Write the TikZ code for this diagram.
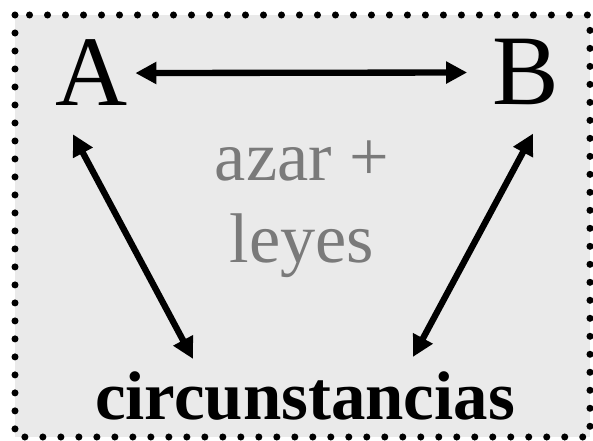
\documentclass[tikz,border=0pt]{standalone}
\usepackage{fontspec}
\setmainfont{Liberation Serif}
\usepackage{tikz}
\usetikzlibrary{calc,arrows.meta,positioning}

\definecolor{panelgray}{HTML}{EAEAEA}
\definecolor{textgray}{HTML}{7A7A7A}

\begin{document}
\begin{tikzpicture}[
    x=0.25mm, y=-0.25mm,
    letter/.style={inner sep=0pt, font=\fontsize{71}{80}\selectfont},
    mixnode/.style={inner sep=0pt, align=center, text=textgray,
                    font=\fontsize{50}{58}\selectfont},
    circnode/.style={inner sep=0pt, font=\fontsize{49}{56}\selectfont\bfseries},
    link/.style={{Triangle[length=15pt, width=15pt]}-{Triangle[length=15pt, width=15pt]},
                 line width=4.5pt},
    frame/.style={draw=black, fill=panelgray, line width=5pt, line cap=round,
                  dash pattern=on 0pt off 12.8pt}
]
\useasboundingbox (0,0) rectangle (593,441);

% ================= PANEL =================
\draw[frame] (15,15) rectangle (590,437);

% ================= NODES =================
\node[letter, anchor=base] (nodeA) at (92,106) {A};
\node[letter, anchor=base] (nodeB) at (526,105) {B};
\node[mixnode] (mix) at (302,209) {azar +\\leyes};
\node[circnode, anchor=base] (circ) at (305,420) {circunstancias};

% ================= ARROWS =================
\draw[link, shorten <=5pt, shorten >=18pt] (nodeA.east) -- (nodeB.west);
\draw[link] ($(nodeA.south)+(-19,28)$) -- ($(circ.north)+(-112,-13)$);
\draw[link] ($(nodeB.south)+(7,28)$) -- ($(circ.north)+(108,-15)$);

\end{tikzpicture}
\end{document}
